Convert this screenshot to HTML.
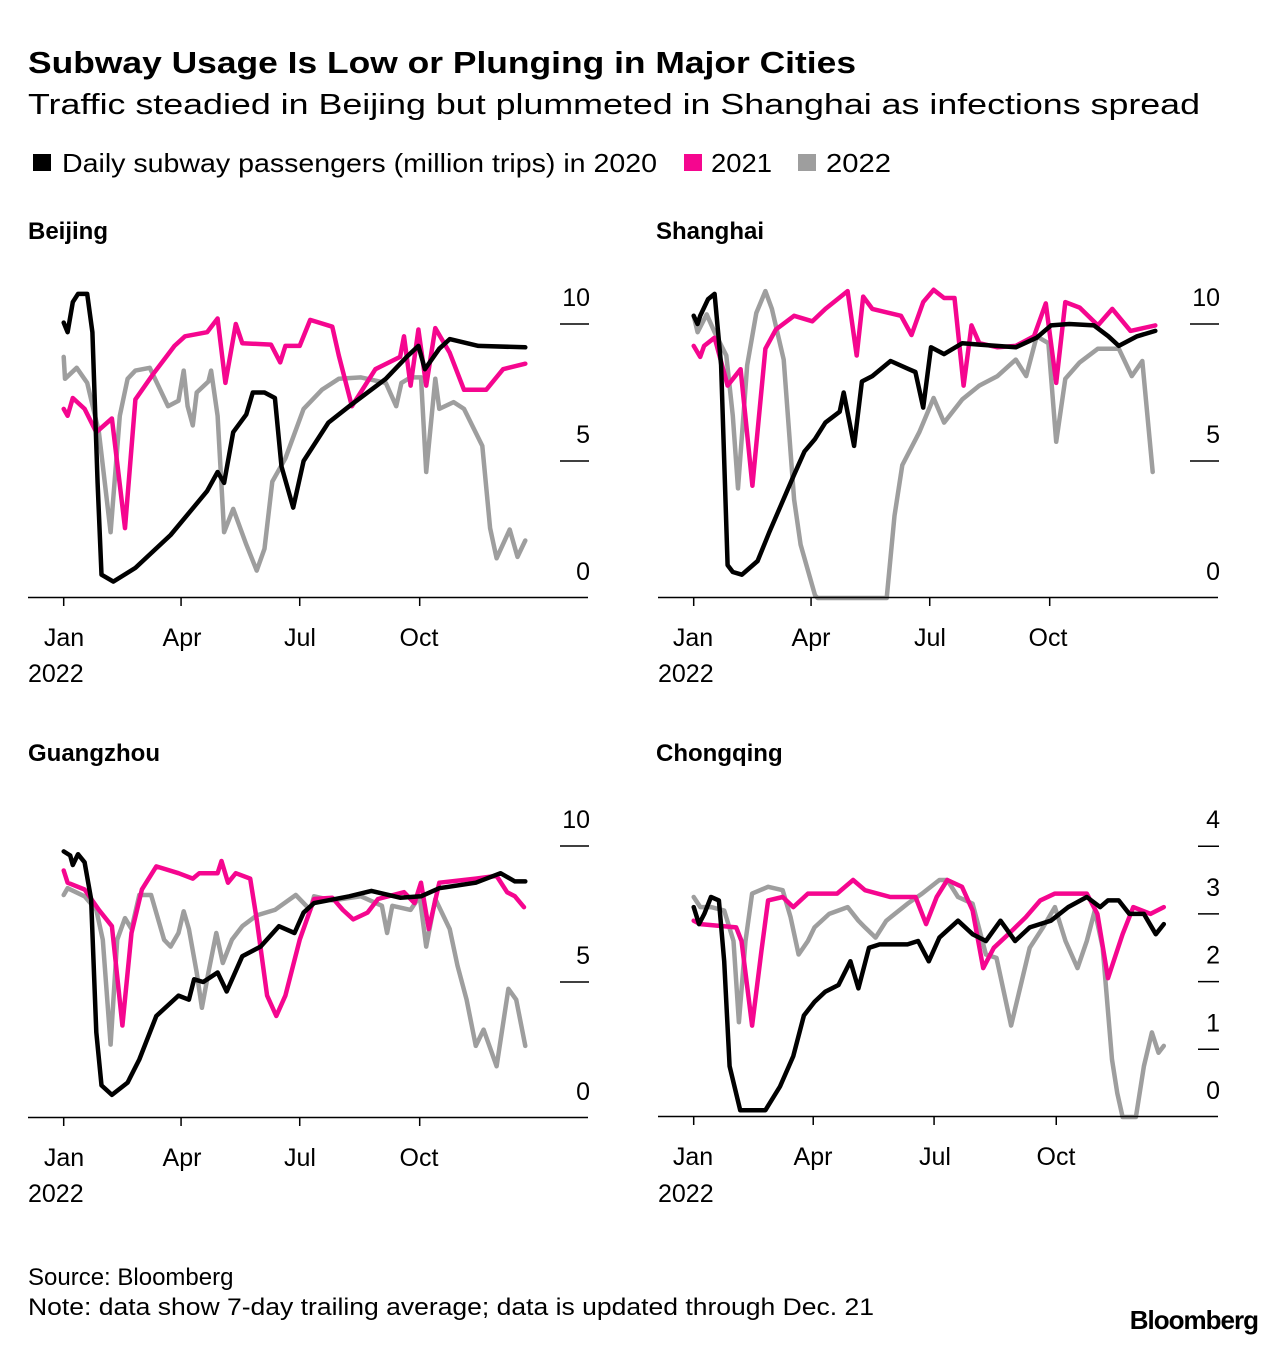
<!DOCTYPE html>
<html><head><meta charset="utf-8"><style>
html,body{margin:0;padding:0;background:#fff;}
svg{display:block;font-family:"Liberation Sans",Arial,sans-serif;}
</style></head><body>
<svg id="chart" width="1286" height="1346" viewBox="0 0 1286 1346">
<text x="28" y="73" font-size="31" font-weight="bold" textLength="828" lengthAdjust="spacingAndGlyphs">Subway Usage Is Low or Plunging in Major Cities</text>
<text x="28" y="114" font-size="29" textLength="1172" lengthAdjust="spacingAndGlyphs">Traffic steadied in Beijing but plummeted in Shanghai as infections spread</text>
<g>
<rect x="33" y="154" width="18" height="17" fill="#000"/>
<text x="62" y="172" font-size="26" textLength="595" lengthAdjust="spacingAndGlyphs">Daily subway passengers (million trips) in 2020</text>
<rect x="684" y="154" width="18" height="17" fill="#f5068f"/>
<text x="711" y="172" font-size="26" textLength="61" lengthAdjust="spacingAndGlyphs">2021</text>
<rect x="798" y="154" width="18" height="17" fill="#9e9e9e"/>
<text x="826" y="172" font-size="26" textLength="65" lengthAdjust="spacingAndGlyphs">2022</text>
</g>
<text x="28" y="1285" font-size="24">Source: Bloomberg</text>
<text x="28" y="1315" font-size="24" textLength="846" lengthAdjust="spacingAndGlyphs">Note: data show 7-day trailing average; data is updated through Dec. 21</text>
<text x="1258" y="1329" font-size="26" font-weight="bold" text-anchor="end" letter-spacing="-1">Bloomberg</text>
</svg>
<script>
// Beijing
const bjBlackDays=[0,3,7,11,18,22,26,29,38,55,82,110,118,123,130,140,145,154,162,167,176,184,203,219,247,263,272,277,288,296,318,354];
const bjBlackVals=[10.05,9.7,10.8,11.1,11.1,9.7,4.2,0.85,0.6,1.1,2.3,3.9,4.6,4.2,6.05,6.7,7.5,7.5,7.3,4.8,3.3,5.0,6.4,7.0,8.0,8.8,9.2,8.35,9.1,9.45,9.2,9.15];
const bjPinkDays=[0,3,7,16,25,37,47,55,69,85,93,110,118,124,132,137,159,166,170,181,189,206,211,221,239,258,261,266,272,278,285,296,307,324,337,354];
const bjPinkVals=[6.9,6.65,7.3,6.9,6.05,6.55,2.55,7.25,8.2,9.2,9.55,9.7,10.2,7.85,10.0,9.3,9.25,8.6,9.2,9.2,10.15,9.9,8.85,7.0,8.35,8.8,9.55,7.75,9.8,7.75,9.85,8.95,7.6,7.6,8.35,8.55];
const bjGrayDays=[0,1,10,18,27,36,43,49,55,66,80,88,92,95,99,102,111,113,118,123,130,140,148,154,160,170,184,198,211,228,247,255,259,266,274,278,285,288,299,307,321,327,332,342,348,354];
const bjGrayVals=[8.8,8.0,8.4,7.85,6.05,2.4,6.65,8.0,8.3,8.4,7.0,7.2,8.3,7.0,6.3,7.5,7.9,8.3,6.65,2.4,3.25,1.95,1.0,1.8,4.25,5.1,6.9,7.6,8.0,8.05,7.85,7.0,7.85,8.05,8.05,4.6,8.0,6.9,7.15,6.9,5.55,2.55,1.45,2.5,1.5,2.1];
// Shanghai
const shBlackDays=[0,3,5,11,16,21,26,30,37,49,58,77,85,93,101,112,115,123,129,137,151,165,170,176,182,192,206,219,247,263,274,288,307,318,326,340,354];
const shBlackVals=[10.3,10.0,10.3,10.9,11.1,8.5,1.2,0.95,0.85,1.35,2.4,4.5,5.35,5.8,6.4,6.8,7.5,5.55,7.9,8.1,8.65,8.35,8.25,6.95,9.15,8.9,9.3,9.25,9.15,9.5,9.95,10.0,9.95,9.55,9.2,9.55,9.75];
const shPinkDays=[0,5,8,16,26,36,45,55,63,77,91,101,118,125,130,137,159,167,176,184,192,200,207,213,219,233,247,261,270,278,285,296,310,321,335,354];
const shPinkVals=[9.2,8.8,9.2,9.5,7.75,8.35,4.1,9.1,9.8,10.3,10.1,10.55,11.2,8.85,11.0,10.55,10.3,9.6,10.8,11.25,10.95,10.95,7.75,9.95,9.3,9.15,9.2,9.55,10.75,7.85,10.8,10.6,9.95,10.55,9.75,9.95];
const shGrayDays=[0,3,10,16,25,30,34,41,48,55,60,69,77,82,93,95,148,154,160,173,184,192,206,219,233,247,255,263,272,278,285,296,310,326,336,344,352];
const shGrayVals=[10.3,9.7,10.35,9.7,8.85,6.65,4.0,8.5,10.4,11.2,10.55,8.7,3.6,1.95,0.1,0,0,3.0,4.85,6.05,7.3,6.4,7.25,7.75,8.1,8.7,8.1,9.55,9.3,5.7,8.0,8.6,9.1,9.1,8.1,8.65,4.6];
// Guangzhou
const gzBlackDays=[0,5,7,11,16,21,25,29,37,49,58,71,88,96,100,107,118,125,137,151,165,177,184,192,219,236,258,274,288,316,335,346,354];
const gzBlackVals=[9.8,9.65,9.3,9.7,9.4,8.05,3.15,1.2,0.85,1.3,2.15,3.75,4.5,4.35,5.1,5.0,5.35,4.65,5.95,6.3,7.05,6.8,7.55,7.9,8.15,8.35,8.1,8.15,8.45,8.65,9.0,8.7,8.7];
const gzPinkDays=[0,3,16,27,37,45,52,60,71,88,99,104,118,121,126,132,143,148,156,163,170,181,192,206,214,222,233,241,261,269,274,280,288,316,332,340,346,353];
const gzPinkVals=[9.1,8.65,8.4,7.65,7.05,3.4,6.8,8.4,9.25,9.0,8.8,9.0,9.0,9.45,8.65,9.0,8.8,7.3,4.5,3.75,4.5,6.55,8.05,8.1,7.65,7.3,7.55,8.05,8.3,7.9,8.65,6.95,8.65,8.8,8.9,8.3,8.15,7.75];
const gzGrayDays=[0,3,16,25,30,36,41,47,52,58,67,77,82,88,92,96,102,106,111,117,122,129,137,148,162,178,189,192,206,228,244,248,252,266,273,278,285,296,302,309,316,322,332,341,347,354];
const gzGrayVals=[8.2,8.45,8.15,7.65,6.55,2.7,6.55,7.35,6.95,8.2,8.2,6.55,6.3,6.8,7.6,6.95,5.35,4.05,5.35,6.8,5.7,6.55,7.05,7.45,7.65,8.2,7.65,8.15,8.0,8.15,7.8,6.8,7.8,7.65,8.15,6.3,8.05,6.95,5.6,4.35,2.65,3.25,1.9,4.75,4.35,2.65];
// Chongqing
const cqBlackDays=[0,4,8,13,19,23,27,35,54,65,75,83,91,99,109,118,124,132,140,161,169,177,185,199,210,220,231,242,253,269,282,296,306,312,320,328,339,348,354];
const cqBlackVals=[3.1,2.85,3.0,3.25,3.2,2.3,0.75,0.1,0.1,0.45,0.9,1.5,1.7,1.85,1.95,2.3,1.9,2.5,2.55,2.55,2.6,2.3,2.65,2.9,2.7,2.6,2.9,2.6,2.8,2.9,3.1,3.25,3.1,3.2,3.2,3.0,3.0,2.7,2.85];
const cqPinkDays=[0,5,32,36,44,51,56,67,75,86,108,120,129,148,167,175,183,191,202,210,218,226,237,250,261,272,285,296,304,312,323,331,344,354];
const cqPinkVals=[2.9,2.85,2.8,2.6,1.35,2.45,3.2,3.25,3.1,3.3,3.3,3.5,3.35,3.25,3.25,2.85,3.25,3.5,3.4,3.05,2.2,2.5,2.7,2.95,3.2,3.3,3.3,3.3,3.0,2.05,2.7,3.1,3.0,3.1];
const cqGrayDays=[0,5,13,23,30,34,39,44,56,67,73,79,86,91,102,116,124,129,137,145,161,172,185,191,199,210,220,228,239,253,263,272,280,289,296,302,308,315,319,323,333,339,345,350,354];
const cqGrayVals=[3.25,3.1,3.1,3.05,2.6,1.4,2.6,3.3,3.4,3.35,2.95,2.4,2.6,2.8,3.0,3.1,2.9,2.8,2.65,2.9,3.15,3.3,3.5,3.5,3.25,3.15,2.4,2.35,1.35,2.5,2.8,3.1,2.6,2.2,2.6,3.05,2.5,0.85,0.35,0,0,0.75,1.25,0.95,1.05];

const quarterDays=[0,90,181,273];
const quarterLabels=["Jan","Apr","Jul","Oct"];
const colors={black:"#000000",pink:"#f5068f",gray:"#9e9e9e"};

const panels=[
 {name:"beijing",title:"Beijing",tx:28,ty:239,jan:63.7,ppd:1.304,y0:598,ppu:27.4,left:28,right:588,ticks:[0,5,10],labOff:[64,182,300,419],tickL:560,
  series:[["gray",bjGrayDays,bjGrayVals],["pink",bjPinkDays,bjPinkVals],["black",bjBlackDays,bjBlackVals]],yearY:682},
 {name:"shanghai",title:"Shanghai",tx:656,ty:239,jan:693.7,ppd:1.304,y0:598,ppu:27.4,left:658,right:1218,ticks:[0,5,10],labOff:[693,811,930,1048],tickL:1190,
  series:[["gray",shGrayDays,shGrayVals],["pink",shPinkDays,shPinkVals],["black",shBlackDays,shBlackVals]],yearY:682},
 {name:"guangzhou",title:"Guangzhou",tx:28,ty:761,jan:63.7,ppd:1.304,y0:1118,ppu:27.2,left:28,right:588,ticks:[0,5,10],labOff:[64,182,300,419],tickL:560,
  series:[["gray",gzGrayDays,gzGrayVals],["pink",gzPinkDays,gzPinkVals],["black",gzBlackDays,gzBlackVals]],yearY:1202},
 {name:"chongqing",title:"Chongqing",tx:656,ty:761,jan:693.7,ppd:1.328,y0:1117,ppu:67.7,left:658,right:1218,ticks:[0,1,2,3,4],labOff:[693,813,935,1056],tickL:1198,
  series:[["gray",cqGrayDays,cqGrayVals],["pink",cqPinkDays,cqPinkVals],["black",cqBlackDays,cqBlackVals]],yearY:1202}
];
const svg=document.getElementById('chart');
const NS="http://www.w3.org/2000/svg";
function mk(tag,attrs,parent){const e=document.createElementNS(NS,tag);for(const k in attrs)e.setAttribute(k,attrs[k]);parent.appendChild(e);return e;}
panels.forEach(p=>{
  const g=mk('g',{},svg);
  
  
  const xs=d=>p.jan+d*p.ppd;
  const ys=v=>p.y0-v*p.ppu;
  const t=mk('text',{x:p.tx,y:p.ty,'font-size':24,'font-weight':'bold'},g);
  t.textContent=p.title;
  
  
  p.ticks.forEach(v=>{
    if(v>0){
      const l=mk('line',{x1:p.tickL,x2:p.right+1,y1:ys(v),y2:ys(v),stroke:'#000','stroke-width':1.5},g);
      
      
    }
    const tl=mk('text',{x:p.right+2,y:ys(v)-18,'font-size':25,'text-anchor':'end'},g);
    tl.textContent=String(v);
    
    
  });
  p.series.forEach(s=>{
    const pts=s[1].map((d,i)=>xs(d).toFixed(1)+','+ys(s[2][i]).toFixed(1)).join(' ');
    const pl=mk('polyline',{points:pts,fill:'none',stroke:colors[s[0]],'stroke-width':4.5,'stroke-linejoin':'round','stroke-linecap':'round'},g);
    
    
  });
  const ax=mk('line',{x1:p.left,x2:p.right,y1:p.y0-0.5,y2:p.y0-0.5,stroke:'#000','stroke-width':1.5},g);
  
  
  quarterDays.forEach((d,i)=>{
    const tk=mk('line',{x1:xs(d),x2:xs(d),y1:p.y0,y2:p.y0+8,stroke:'#000','stroke-width':1.5},g);
    
    
    const lb=mk('text',{x:p.labOff[i],y:p.y0+48,'font-size':25,'text-anchor':'middle'},g);
    lb.textContent=quarterLabels[i];
    
    
  });
  const yr=mk('text',{x:p.left,y:p.yearY,'font-size':25},g);
  yr.textContent='2022';
  
  
});
</script>
</body></html>
